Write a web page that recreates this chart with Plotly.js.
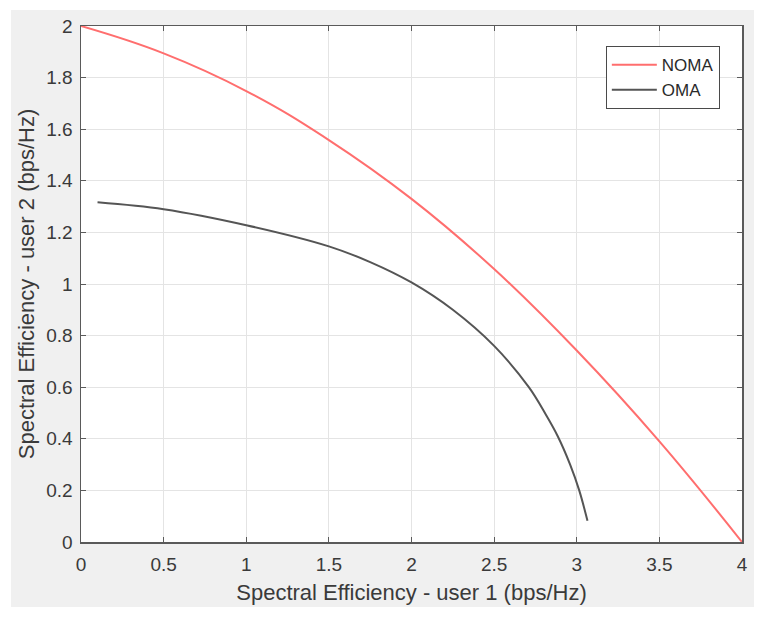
<!DOCTYPE html>
<html>
<head>
<meta charset="utf-8">
<script src="https://cdn.plot.ly/plotly-3.0.1.min.js"></script>
<style>
  body { margin: 0; background: #ffffff; }
  #graph { position: absolute; left: 11px; top: 10px; width: 743px; height: 597px; }
</style>
</head>
<body>
<div id="graph"></div>
<script>
// values
var nomaX = [0, 0.5, 1, 1.5, 2, 2.5, 3, 3.5, 4];
var nomaY = [2, 1.894, 1.748, 1.558, 1.33, 1.058, 0.742, 0.39, 0];

var omaX = [0.1, 0.5, 1.0, 1.5, 1.75, 2.0, 2.25, 2.5, 2.71, 2.81, 2.885, 2.96, 3.015, 3.065];
var omaY = [1.317, 1.29, 1.228, 1.146, 1.085, 1.006, 0.9, 0.76, 0.6, 0.497, 0.41, 0.3, 0.2, 0.082];

var xTicks = [0, 0.5, 1, 1.5, 2, 2.5, 3, 3.5, 4];
var xTickText = ['0', '0.5', '1', '1.5', '2', '2.5', '3', '3.5', '4'];
var yTicks = [0, 0.2, 0.4, 0.6, 0.8, 1, 1.2, 1.4, 1.6, 1.8, 2];
var yTickText = ['0', '0.2', '0.4', '0.6', '0.8', '1', '1.2', '1.4', '1.6', '1.8', '2'];

var graph = document.getElementById('graph');
var fontName = 'Liberation Sans, Arial, sans-serif';

var traces = [{
  x: nomaX,
  y: nomaY,
  name: 'NOMA',
  mode: 'lines',
  type: 'scatter',
  line: { color: '#ff6e6e', width: 2, shape: 'spline', smoothing: 1.2 }
}, {
  x: omaX,
  y: omaY,
  name: 'OMA',
  mode: 'lines',
  type: 'scatter',
  line: { color: '#555555', width: 2, shape: 'spline', smoothing: 1 }
}];

var axisCommon = {
  showgrid: true,
  gridcolor: '#e4e4e4',
  gridwidth: 1,
  zeroline: false,
  showline: true,
  linecolor: '#5a5a5a',
  linewidth: 1.5,
  mirror: 'ticks',
  ticks: 'inside',
  ticklen: 5,
  tickcolor: '#5a5a5a',
  tickfont: { family: fontName, size: 19, color: '#3a3a3a' }
};

var layout = {
  width: 743,
  height: 597,
  margin: { l: 70, r: 12, t: 16, b: 65 },
  paper_bgcolor: '#f0f0f0',
  plot_bgcolor: '#ffffff',
  showlegend: true,
  legend: {
    x: 0.794,
    y: 0.961,
    xanchor: 'left',
    yanchor: 'top',
    bgcolor: '#ffffff',
    bordercolor: '#4a4a4a',
    borderwidth: 1,
    itemwidth: 45,
    font: { family: fontName, size: 17, color: '#2a2a2a' }
  },
  xaxis: Object.assign({}, axisCommon, {
    range: [0, 4],
    tickvals: xTicks,
    ticktext: xTickText,
    ticklabelstandoff: 5,
    title: { text: 'Spectral Efficiency - user 1 (bps/Hz)', standoff: 10,
             font: { family: fontName, size: 22, color: '#3a3a3a' } }
  }),
  yaxis: Object.assign({}, axisCommon, {
    range: [0, 2],
    tickvals: yTicks,
    ticktext: yTickText,
    ticklabelstandoff: 3,
    title: { text: 'Spectral Efficiency - user 2 (bps/Hz)', standoff: 5,
             font: { family: fontName, size: 22, color: '#3a3a3a' } }
  })
};

Plotly.newPlot(graph, traces, layout, { displayModeBar: false, staticPlot: true });
</script>
</body>
</html>
